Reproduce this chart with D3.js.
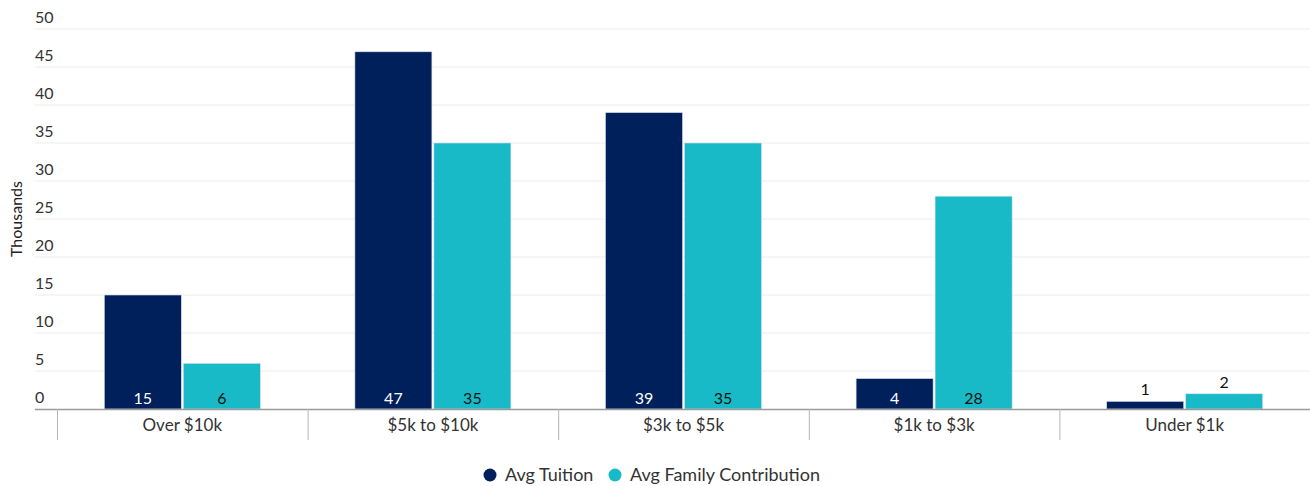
<!DOCTYPE html>
<html>
<head>
<meta charset="utf-8">
<script src="https://cdn.jsdelivr.net/npm/d3@7"></script>
<style>
  body { margin: 0; background: #fff; }
  svg { font-family: Lato, "Open Sans", sans-serif; }
</style>
</head>
<body>
<div id="chart"></div>
<script>
  var categories = ['Over $10k', '$5k to $10k', '$3k to $5k', '$1k to $3k', 'Under $1k'];
  var seriesNames = ['Avg Tuition', 'Avg Family Contribution'];
  var tuition = [15, 47, 39, 4, 1];
  var family = [6, 35, 35, 28, 2];
  var yTicks = [0, 5, 10, 15, 20, 25, 30, 35, 40, 45, 50];

  var colors = ['#00205b', '#17bac6'];
  var labelColors = ['#ffffff', '#111111'];

  var width = 1310, height = 486;
  var plotLeft = 57, plotRight = 1310, plotTop = 29, plotBottom = 409;

  var svg = d3.select('#chart').append('svg')
    .attr('width', width).attr('height', height);

  var x = d3.scaleBand().domain(categories).range([plotLeft, plotRight]).paddingInner(0).paddingOuter(0);
  var y = d3.scaleLinear().domain([0, 50]).range([plotBottom, plotTop]);

  // gridlines + y labels
  var grid = svg.append('g');
  yTicks.forEach(function(t) {
    if (t > 0) {
      grid.append('line')
        .attr('x1', 35).attr('x2', plotRight)
        .attr('y1', y(t)).attr('y2', y(t))
        .attr('stroke', '#ececec').attr('stroke-width', 1);
    }
    grid.append('text')
      .attr('x', 35).attr('y', y(t) - 6)
      .attr('font-size', 16).attr('fill', '#333')
      .text(t);
  });

  // y title
  svg.append('text')
    .attr('transform', 'translate(22,' + ((plotTop + plotBottom) / 2) + ') rotate(-90)')
    .attr('text-anchor', 'middle')
    .attr('font-size', 16).attr('fill', '#222')
    .text('Thousands');

  // bars
  var barW = 77, gap = 2;
  var series = [tuition, family];
  series.forEach(function(vals, s) {
    var g = svg.append('g');
    g.selectAll('rect')
      .data(vals)
      .enter()
      .append('rect')
      .attr('x', function(d, i) {
        var c = x(categories[i]) + x.bandwidth() / 2;
        return s === 0 ? c - gap / 2 - barW : c + gap / 2;
      })
      .attr('y', function(d) { return y(d); })
      .attr('width', barW)
      .attr('height', function(d) { return y(0) - y(d); })
      .attr('fill', colors[s])
      .attr('stroke', '#d8dde8').attr('stroke-width', 0.6);

    g.selectAll('text')
      .data(vals)
      .enter()
      .append('text')
      .attr('x', function(d, i) {
        var c = x(categories[i]) + x.bandwidth() / 2;
        return s === 0 ? c - gap / 2 - barW / 2 : c + gap / 2 + barW / 2;
      })
      .attr('y', function(d) {
        return (y(0) - y(d)) < 22 ? y(d) - 6 : y(0) - 5;
      })
      .attr('text-anchor', 'middle')
      .attr('font-size', 16)
      .attr('fill', function(d) {
        return (y(0) - y(d)) < 22 ? '#111' : labelColors[s];
      })
      .text(function(d) { return d; });
  });

  // x axis
  svg.append('line')
    .attr('x1', 35).attr('x2', plotRight)
    .attr('y1', plotBottom + 0.5).attr('y2', plotBottom + 0.5)
    .attr('stroke', '#9a9a9a').attr('stroke-width', 1.5);

  var xb = categories.map(function(c) { return x(c); }).concat([plotRight]);
  xb.forEach(function(px) {
    svg.append('line')
      .attr('x1', px + 0.5).attr('x2', px + 0.5)
      .attr('y1', plotBottom).attr('y2', 440)
      .attr('stroke', '#b5b5b5').attr('stroke-width', 1);
  });

  svg.append('g').selectAll('text')
    .data(categories)
    .enter()
    .append('text')
    .attr('x', function(d) { return x(d) + x.bandwidth() / 2; })
    .attr('y', 431)
    .attr('text-anchor', 'middle')
    .attr('font-size', 17).attr('fill', '#333')
    .text(function(d) { return d; });

  // legend
  var leg = svg.append('g');
  var lx = [490, 615];
  seriesNames.forEach(function(n, i) {
    leg.append('circle')
      .attr('cx', lx[i]).attr('cy', 475).attr('r', 6.5)
      .attr('fill', colors[i]);
    leg.append('text')
      .attr('x', lx[i] + 15).attr('y', 481)
      .attr('font-size', 18).attr('fill', '#333')
      .text(n);
  });
</script>
</body>
</html>
